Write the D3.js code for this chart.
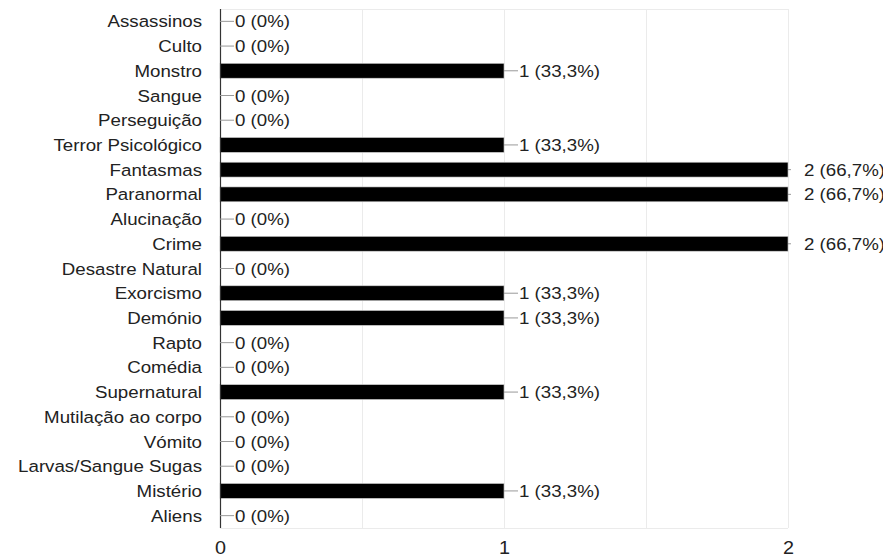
<!DOCTYPE html>
<html><head><meta charset="utf-8">
<script src="https://cdn.jsdelivr.net/npm/d3@7"></script>
<style>body{margin:0;background:#fff;} svg{display:block;font-family:"Liberation Sans",Arial,sans-serif;}</style>
</head><body>
<script>
const categories = ["Assassinos","Culto","Monstro","Sangue","Perseguição","Terror Psicológico","Fantasmas","Paranormal","Alucinação","Crime","Desastre Natural","Exorcismo","Demónio","Rapto","Comédia","Supernatural","Mutilação ao corpo","Vómito","Larvas/Sangue Sugas","Mistério","Aliens"];
const values = [0,0,1,0,0,1,2,2,0,2,0,1,1,0,0,1,0,0,0,1,0];
const percents = ["0%","0%","33,3%","0%","0%","33,3%","66,7%","66,7%","0%","66,7%","0%","33,3%","33,3%","0%","0%","33,3%","0%","0%","0%","33,3%","0%"];
const xTicks = [0,1,2];
const gridTicks = [0.5,1,1.5,2];

const W=883,H=558;
const SX=1.1; // horizontal stretch of text seen in the reference
const m={left:220,right:95,top:9,bottom:30};
const svg=d3.select("body").append("svg").attr("width",W).attr("height",H);
const x=d3.scaleLinear().domain([0,2]).range([m.left,W-m.right]);
const y=d3.scaleBand().domain(categories).range([m.top,H-m.bottom]).paddingInner(0.4).paddingOuter(0.2);
const rowY=d3.scaleBand().domain(categories).range([m.top,H-m.bottom]);

// grid
svg.append("g").selectAll("line").data(gridTicks).join("line")
  .attr("x1",d=>Math.round(x(d))+0.5).attr("x2",d=>Math.round(x(d))+0.5).attr("y1",m.top).attr("y2",H-m.bottom)
  .attr("stroke","#ebebeb").attr("stroke-width",1);
svg.append("line").attr("x1",m.left).attr("x2",x(2)).attr("y1",m.top+0.5).attr("y2",m.top+0.5).attr("stroke","#ebebeb");
svg.append("line").attr("x1",m.left).attr("x2",x(2)).attr("y1",H-m.bottom+0.5).attr("y2",H-m.bottom+0.5).attr("stroke","#ebebeb");

// bars
svg.append("g").selectAll("rect").data(categories).join("rect")
  .attr("x",x(0)).attr("y",d=>y(d)).attr("width",(d,i)=>x(values[i])-x(0)).attr("height",y.bandwidth())
  .attr("fill","#000").attr("stroke","#ccc").attr("stroke-width",(d,i)=>values[i]>0?0.6:0);

// y axis line
svg.append("line").attr("x1",m.left+0.5).attr("x2",m.left+0.5).attr("y1",m.top).attr("y2",H-m.bottom)
  .attr("stroke","#333").attr("stroke-width",1.2);

// category labels
const yAxis=d3.axisLeft(rowY).tickSize(0).tickPadding(18);
const ya=svg.append("g").attr("transform",`translate(${m.left},0)`).call(yAxis);
ya.select(".domain").remove();
ya.selectAll("text").attr("font-size",17).attr("fill","#222").attr("font-family","'Liberation Sans',Arial,sans-serif")
  .attr("x",-18/SX).attr("dy","0.36em").attr("transform",`scale(${SX},1)`);

// annotations
const ann=svg.append("g");
categories.forEach((c,i)=>{
  const cy=rowY(c)+rowY.bandwidth()/2;
  const x0=x(values[i]);
  const full=values[i]===2;
  ann.append("line").attr("x1",x0).attr("x2",x0+(full?3:14)).attr("y1",cy).attr("y2",cy).attr("stroke","#999").attr("stroke-width",1);
  ann.append("g").attr("transform",`translate(${x0+(full?16:15)},${cy})`)
    .append("text").attr("dy","0.36em").attr("transform",`scale(${SX},1)`)
    .attr("font-size",17).attr("fill","#222").text(`${values[i]} (${percents[i]})`);
});

// x axis labels
const xa=svg.append("g").attr("transform",`translate(0,${H-m.bottom})`).call(d3.axisBottom(x).tickValues(xTicks).tickSize(0).tickFormat(d3.format("d")));
xa.select(".domain").remove();
xa.selectAll("text").attr("font-size",18).attr("fill","#222").attr("font-family","'Liberation Sans',Arial,sans-serif")
  .attr("y",26).attr("dy",0).attr("transform",`scale(${SX},1)`);
</script>
</body></html>
